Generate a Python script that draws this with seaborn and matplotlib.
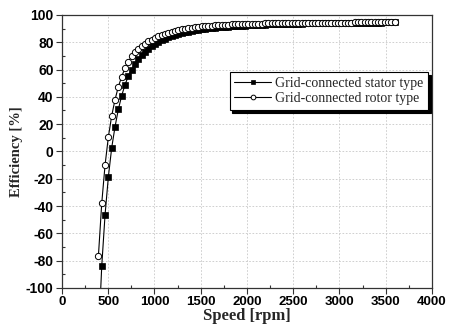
# Efficiency vs speed for the two grid-connected types
import numpy as np
import matplotlib.pyplot as plt
import seaborn as sns
import pandas as pd
from matplotlib.ticker import MultipleLocator

# Data
speed = [394, 430, 466, 502, 538, 574, 610, 646, 682, 718,
         754, 790, 826, 862, 898, 934, 970, 1006, 1042, 1078,
         1114, 1150, 1186, 1222, 1258, 1294, 1330, 1366, 1402, 1438,
         1474, 1510, 1546, 1582, 1618, 1654, 1690, 1726, 1762, 1798,
         1834, 1870, 1906, 1942, 1978, 2014, 2050, 2086, 2122, 2158,
         2194, 2230, 2266, 2302, 2338, 2374, 2410, 2446, 2482, 2518,
         2554, 2590, 2626, 2662, 2698, 2734, 2770, 2806, 2842, 2878,
         2914, 2950, 2986, 3022, 3058, 3094, 3130, 3166, 3202, 3238,
         3274, 3310, 3346, 3382, 3418, 3454, 3490, 3526, 3562, 3598]

stator_eff = [-139, -84.0, -46.3, -18.4, 2.8, 18.2, 30.9, 40.9, 48.9, 55.3,
              60.0, 64.0, 67.5, 70.5, 73.0, 75.2, 77.1, 78.8, 80.2, 81.5,
              82.6, 83.6, 84.5, 85.3, 86.0, 86.7, 87.3, 87.8, 88.3, 88.7,
              89.1, 89.5, 89.8, 90.1, 90.4, 90.6, 90.9, 91.1, 91.3, 91.5,
              91.7, 91.8, 92.0, 92.1, 92.2, 92.35, 92.5, 92.6, 92.7, 92.8,
              92.9, 93.0, 93.05, 93.15, 93.2, 93.3, 93.35, 93.4, 93.5, 93.55,
              93.6, 93.65, 93.7, 93.75, 93.8, 93.85, 93.9, 93.9, 93.95, 94.0,
              94.0, 94.05, 94.1, 94.1, 94.15, 94.15, 94.2, 94.2, 94.25, 94.25,
              94.3, 94.3, 94.35, 94.35, 94.4, 94.4, 94.45, 94.45, 94.5, 94.5]

rotor_eff = [-76.6, -38.0, -9.9, 10.8, 26.2, 38.0, 47.5, 54.8, 61.2, 65.8,
             69.6, 72.7, 75.2, 77.3, 79.0, 80.6, 81.9, 83.2, 84.3, 85.4,
             86.3, 87.0, 87.7, 88.4, 88.9, 89.4, 89.9, 90.3, 90.7, 91.0,
             91.3, 91.6, 91.8, 92.0, 92.2, 92.4, 92.5, 92.7, 92.8, 92.9,
             93.0, 93.1, 93.2, 93.3, 93.4, 93.45, 93.5, 93.55, 93.6, 93.65,
             93.7, 93.75, 93.8, 93.85, 93.9, 93.9, 93.95, 94.0, 94.0, 94.05,
             94.1, 94.1, 94.15, 94.15, 94.2, 94.2, 94.25, 94.25, 94.3, 94.3,
             94.3, 94.35, 94.35, 94.35, 94.4, 94.4, 94.4, 94.45, 94.45, 94.45,
             94.5, 94.5, 94.5, 94.5, 94.55, 94.55, 94.55, 94.6, 94.6, 94.6]

labels = ['Grid-connected stator type', 'Grid-connected rotor type']

data = pd.DataFrame({'speed': speed, 'stator': stator_eff, 'rotor': rotor_eff})

sns.set_style('ticks')
plt.rcParams['font.family'] = ['Liberation Sans', 'DejaVu Sans']
plt.rcParams['font.weight'] = 'bold'
plt.rcParams['axes.unicode_minus'] = False
plt.rcParams['xtick.labelsize'] = 9.5
plt.rcParams['ytick.labelsize'] = 10

fig, ax = plt.subplots(figsize=(4.49, 3.31), dpi=100)
fig.subplots_adjust(left=0.138, right=0.962, bottom=0.13, top=0.955)

sns.lineplot(data=data, x='speed', y='stator', ax=ax, sort=False, color='black',
             linewidth=0.8, marker='s', markersize=4.5, markerfacecolor='black',
             markeredgecolor='black', markeredgewidth=0.5, label=labels[0])
sns.lineplot(data=data, x='speed', y='rotor', ax=ax, sort=False, color='black',
             linewidth=0.8, marker='o', markersize=4.5, markerfacecolor='white',
             markeredgecolor='black', markeredgewidth=0.7, label=labels[1])

ax.set_xlim(0, 4000)
ax.set_ylim(-100, 100)
ax.xaxis.set_major_locator(MultipleLocator(500))
ax.xaxis.set_minor_locator(MultipleLocator(250))
ax.yaxis.set_major_locator(MultipleLocator(20))
ax.yaxis.set_minor_locator(MultipleLocator(10))

ax.grid(True, which='major', color='#c8c8c8', linestyle=(0, (2, 2)), linewidth=0.6)
ax.set_axisbelow(True)

for s in ax.spines.values():
    s.set_color('#333333')
    s.set_linewidth(0.9)

ax.tick_params(which='major', direction='out', length=4, width=0.8, color='#333333',
               labelcolor='black', top=False, right=False, pad=2)
ax.tick_params(which='minor', direction='in', length=2.5, width=0.8, color='#333333',
               top=False, right=False)

ax.set_xlabel('Speed [rpm]', fontfamily='Liberation Serif', fontweight='bold',
              fontsize=12, labelpad=0)
ax.set_ylabel('Efficiency [%]', fontfamily='Liberation Serif', fontweight='bold',
              fontsize=10.5, labelpad=2)

leg = ax.legend(loc='upper right', bbox_to_anchor=(0.989, 0.791), frameon=True,
                fancybox=False, shadow={'color': 'black', 'alpha': 1},
                prop={'family': 'Liberation Serif', 'weight': 'normal', 'size': 10},
                handlelength=2.6, handletextpad=0.3, borderpad=0.35,
                labelspacing=0.15, markerscale=0.75, borderaxespad=0)
leg.get_frame().set_edgecolor('black')
leg.get_frame().set_linewidth(0.8)

fig.savefig('out.png', dpi=100)
